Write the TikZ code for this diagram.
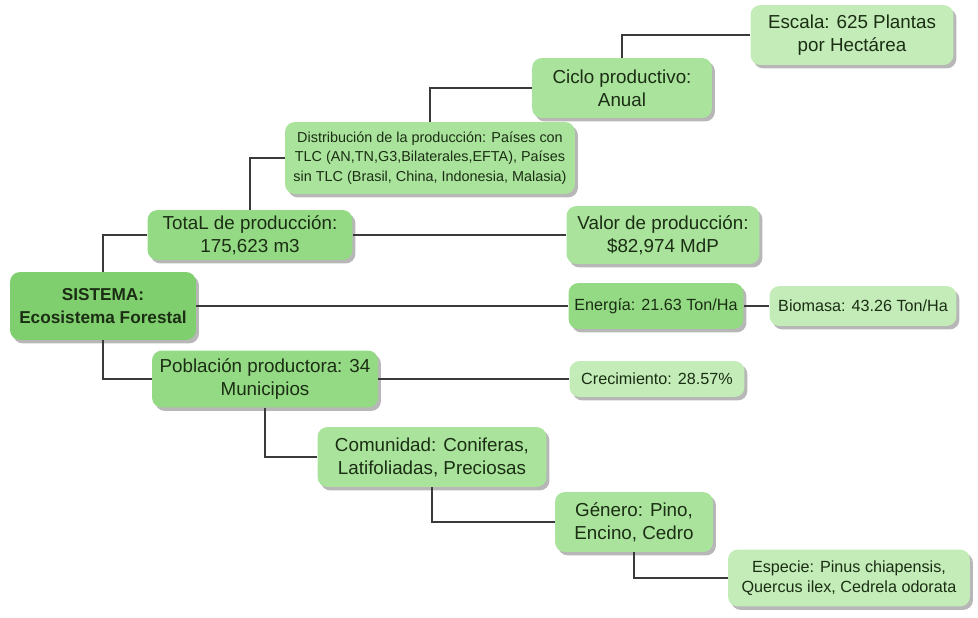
\documentclass[tikz,border=0pt]{standalone}
\usepackage{fontspec}
\setmainfont{Liberation Sans}
\usetikzlibrary{shadows}
\definecolor{verdeA}{HTML}{80CF6E}
\definecolor{verdeB}{HTML}{94DA84}
\definecolor{verdeC}{HTML}{AAE39C}
\definecolor{verdeD}{HTML}{C3ECB8}
\definecolor{textoverde}{HTML}{1B2E14}
\definecolor{lineagris}{HTML}{3A3A3A}
\begin{document}
\begin{tikzpicture}[x=0.02cm,y=-0.02cm,
   caja/.style={rounded corners=0.2cm, align=center, inner sep=0pt, text=textoverde,
      font=\fontsize{10.7}{13}\selectfont,
      drop shadow={shadow xshift=0.06cm, shadow yshift=-0.07cm, opacity=0.4, fill=black!70}},
   chica/.style={font=\fontsize{9.2}{11.5}\selectfont},
   linea/.style={line width=0.85pt, draw=lineagris}] % <- 1 unit = 1 px
   \useasboundingbox (0,0) rectangle (978,618);
   % Nodes
   \node[caja, fill=verdeA, minimum width=3.72cm, minimum height=1.36cm,
      font=\fontsize{9.8}{13}\selectfont\bfseries] (sistema) at (103,306) {SISTEMA:\\Ecosistema Forestal};
   \node[caja, fill=verdeB, minimum width=4.1cm, minimum height=1.0cm] (total) at (250,235) {TotaL de producción:\\175,623 m3};
   \node[caja, fill=verdeC, minimum width=5.8cm, minimum height=1.44cm,
      font=\fontsize{8.2}{11}\selectfont] (dist) at (430,158) {Distribución de la producción: Países con\\TLC (AN,TN,G3,Bilaterales,EFTA), Países\\sin TLC (Brasil, China, Indonesia, Malasia)};
   \node[caja, fill=verdeC, minimum width=3.6cm, minimum height=1.2cm] (ciclo) at (622,88) {Ciclo productivo:\\Anual};
   \node[caja, fill=verdeD, minimum width=4.06cm, minimum height=1.2cm] (escala) at (852,35) {Escala: 625 Plantas\\por Hectárea};
   \node[caja, fill=verdeC, minimum width=3.86cm, minimum height=1.16cm] (valor) at (663,235) {Valor de producción:\\\$82,974 MdP};
   \node[caja, chica, fill=verdeB, minimum width=3.5cm, minimum height=0.92cm] (energia) at (656,306) {Energía: 21.63 Ton/Ha};
   \node[caja, chica, fill=verdeD, minimum width=3.74cm, minimum height=0.8cm] (biomasa) at (863,306) {Biomasa: 43.26 Ton/Ha};
   \node[caja, fill=verdeB, minimum width=4.52cm, minimum height=1.14cm] (pobl) at (265,379) {Población productora: 34\\Municipios};
   \node[caja, chica, fill=verdeD, minimum width=3.5cm, minimum height=0.72cm] (crec) at (657,379) {Crecimiento: 28.57\%};
   \node[caja, fill=verdeC, minimum width=4.58cm, minimum height=1.2cm] (comun) at (432,457) {Comunidad: Coniferas,\\Latifoliadas, Preciosas};
   \node[caja, fill=verdeC, minimum width=3.16cm, minimum height=1.2cm] (genero) at (634,522) {Género: Pino,\\Encino, Cedro};
   \node[caja, chica, fill=verdeD, minimum width=4.84cm, minimum height=1.14cm] (especie) at (849,578) {Especie: Pinus chiapensis,\\Quercus ilex, Cedrela odorata};
   % Connectors
   \draw[linea] (sistema.north) |- (total.west);
   \draw[linea] (sistema.south) |- (pobl.west);
   \draw[linea] (sistema.east) -- (energia.west);
   \draw[linea] (energia.east) -- (biomasa.west);
   \draw[linea] (total.east) -- (valor.west);
   \draw[linea] (total.north) |- (dist.west);
   \draw[linea] (dist.north) |- (ciclo.west);
   \draw[linea] (ciclo.north) |- (escala.west);
   \draw[linea] (pobl.east) -- (crec.west);
   \draw[linea] (pobl.south) |- (comun.west);
   \draw[linea] (comun.south) |- (genero.west);
   \draw[linea] (genero.south) |- (especie.west);
\end{tikzpicture}
\end{document}
